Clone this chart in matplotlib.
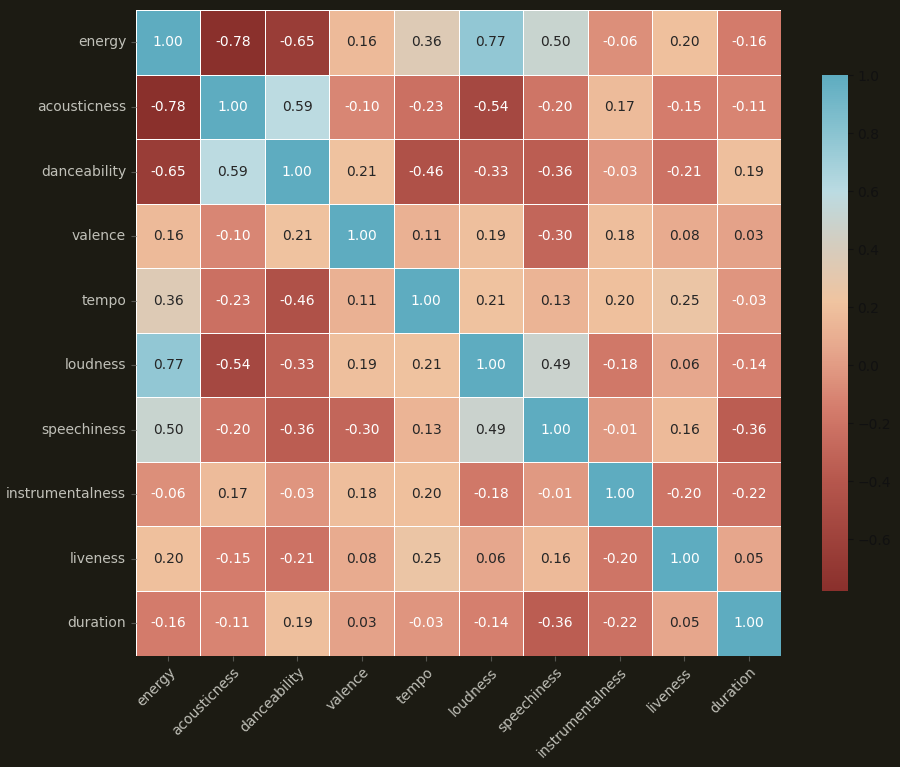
import numpy as np
import pandas as pd
import matplotlib
matplotlib.use('Agg')
import matplotlib.pyplot as plt
import seaborn as sns
from matplotlib.colors import LinearSegmentedColormap

features = ['energy', 'acousticness', 'danceability', 'valence', 'tempo',
            'loudness', 'speechiness', 'instrumentalness', 'liveness', 'duration']

corr_rows = [
    [1.00, -0.78, -0.65, 0.16, 0.36, 0.77, 0.50, -0.06, 0.20, -0.16],
    [-0.78, 1.00, 0.59, -0.10, -0.23, -0.54, -0.20, 0.17, -0.15, -0.11],
    [-0.65, 0.59, 1.00, 0.21, -0.46, -0.33, -0.36, -0.03, -0.21, 0.19],
    [0.16, -0.10, 0.21, 1.00, 0.11, 0.19, -0.30, 0.18, 0.08, 0.03],
    [0.36, -0.23, -0.46, 0.11, 1.00, 0.21, 0.13, 0.20, 0.25, -0.03],
    [0.77, -0.54, -0.33, 0.19, 0.21, 1.00, 0.49, -0.18, 0.06, -0.14],
    [0.50, -0.20, -0.36, -0.30, 0.13, 0.49, 1.00, -0.01, 0.16, -0.36],
    [-0.06, 0.17, -0.03, 0.18, 0.20, -0.18, -0.01, 1.00, -0.20, -0.22],
    [0.20, -0.15, -0.21, 0.08, 0.25, 0.06, 0.16, -0.20, 1.00, 0.05],
    [-0.16, -0.11, 0.19, 0.03, -0.03, -0.14, -0.36, -0.22, 0.05, 1.00],
]

corr = pd.DataFrame(corr_rows, index=features, columns=features)

bg = '#1c1b13'
vmin, vmax = -0.78, 1.0
anchors = [(-0.78, '#8a302c'), (-0.4, '#b6574d'), (-0.15, '#d47c6c'),
           (0.05, '#e6a68c'), (0.22, '#f0c4a0'), (0.42, '#d4cdbf'),
           (0.6, '#bbdbe2'), (0.8, '#8bc4d1'), (1.0, '#5eacc0')]
cmap = LinearSegmentedColormap.from_list(
    'corr', [((v - vmin) / (vmax - vmin), c) for v, c in anchors])

fig = plt.figure(figsize=(9, 7.67), dpi=100, facecolor=bg)
ax = fig.add_axes([0.151, 0.145, 0.717, 0.842])
cax = fig.add_axes([0.913, 0.229, 0.029, 0.673])

sns.heatmap(corr, ax=ax, cbar_ax=cax, cmap=cmap, vmin=vmin, vmax=vmax,
            annot=True, fmt='.2f', linewidths=0.5, linecolor='white',
            square=True, annot_kws={'size': 10})

ax.set_facecolor(bg)
ax.tick_params(colors='#555550', labelcolor='#c0c0b8', labelsize=10)
plt.setp(ax.get_xticklabels(), rotation=45, ha='right', rotation_mode='anchor')
plt.setp(ax.get_yticklabels(), rotation=0)
cax.tick_params(colors='#111111', labelsize=10)
cax.yaxis.set_ticks([-0.6, -0.4, -0.2, 0.0, 0.2, 0.4, 0.6, 0.8, 1.0])

fig.savefig('out.png', facecolor=bg)
